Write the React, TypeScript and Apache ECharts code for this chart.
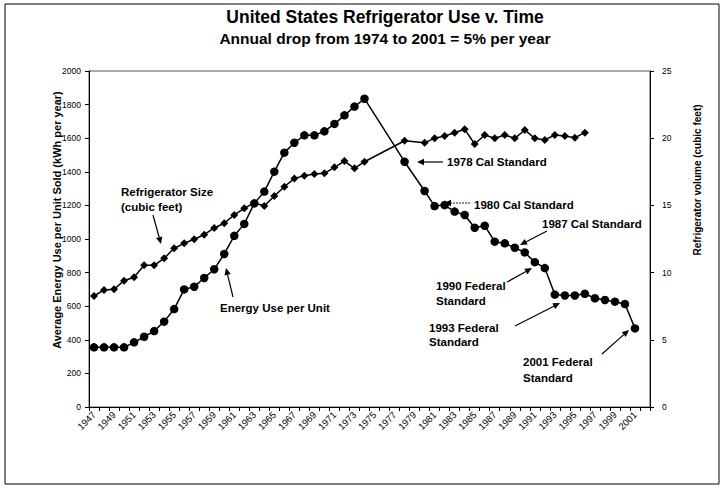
import React, { useEffect, useRef } from "react";
import * as echarts from "echarts";

const years = [
  "1947","1948","1949","1950","1951","1952","1953","1954","1955","1956",
  "1957","1958","1959","1960","1961","1962","1963","1964","1965","1966",
  "1967","1968","1969","1970","1971","1972","1973","1974","1975","1976",
  "1977","1978","1979","1980","1981","1982","1983","1984","1985","1986",
  "1987","1988","1989","1990","1991","1992","1993","1994","1995","1996",
  "1997","1998","1999","2000","2001","2002",
];

// Average energy use per unit sold (kWh per year)
const energyUse: (number | null)[] = [
  355, 355, 355, 355, 385, 418, 452, 508, 583, 700,
  716, 768, 820, 911, 1019, 1090, 1212, 1282, 1401, 1514,
  1573, 1617, 1617, 1641, 1685, 1736, 1788, 1835, null, null,
  null, 1460, null, 1286, 1196, 1202, 1163, 1143, 1067, 1079,
  984, 974, 948, 920, 862, 827, 669, 664, 664, 674,
  647, 637, 627, 613, 468, null,
];

// Refrigerator volume (cubic feet)
const fridgeSize: (number | null)[] = [
  8.26, 8.71, 8.76, 9.4, 9.65, 10.54, 10.54, 11.06, 11.81, 12.18,
  12.48, 12.82, 13.32, 13.67, 14.29, 14.78, 15.2, 14.96, 15.7, 16.39,
  17.01, 17.21, 17.34, 17.39, 17.83, 18.3, 17.76, 18.25, null, null,
  null, 19.81, null, 19.67, 19.99, 20.16, 20.41, 20.66, 19.57, 20.24,
  19.99, 20.24, 19.99, 20.61, 19.99, 19.87, 20.24, 20.16, 20.04, 20.41,
  null, null, null, null, null, null,
];

const FONT = "'Liberation Sans', Arial, sans-serif";

function arrow(x1: number, y1: number, x2: number, y2: number, w = 1.2, dash?: number[]) {
  const ang = Math.atan2(y2 - y1, x2 - x1);
  const hl = 7;
  const hw = 3.2;
  const bx = x2 - hl * Math.cos(ang);
  const by = y2 - hl * Math.sin(ang);
  const px = -Math.sin(ang) * hw;
  const py = Math.cos(ang) * hw;
  return [
    {
      type: "line",
      shape: { x1, y1, x2: bx, y2: by },
      style: { stroke: "#000", lineWidth: w, lineDash: dash },
      silent: true,
    },
    {
      type: "polygon",
      shape: { points: [[x2, y2], [bx + px, by + py], [bx - px, by - py]] },
      style: { fill: "#000" },
      silent: true,
    },
  ];
}

function label(x: number, y: number, text: string, size = 11.5) {
  return {
    type: "text",
    x,
    y,
    style: {
      text,
      fill: "#000",
      font: `bold ${size}px ${FONT}`,
      textAlign: "left",
      textVerticalAlign: "middle",
    },
    silent: true,
  };
}

export default function App() {
  const ref = useRef<HTMLDivElement>(null);
  useEffect(() => {
    if (!ref.current) return;
    const chart = echarts.init(ref.current, undefined, { renderer: "svg" });
    chart.setOption({
      animation: false,
      backgroundColor: "#fff",
      textStyle: { fontFamily: FONT },
      grid: {
        left: 89,
        right: 74,
        top: 71,
        bottom: 83,
        show: true,
        borderColor: "#555",
        borderWidth: 1,
        backgroundColor: "transparent",
      },
      xAxis: {
        type: "category",
        data: years,
        boundaryGap: true,
        axisLine: { lineStyle: { color: "#000", width: 1 } },
        axisTick: { show: true, interval: 0, length: 4, lineStyle: { color: "#000" } },
        axisLabel: {
          interval: 1,
          rotate: 45,
          fontSize: 9.5,
          color: "#000",
          margin: 6,
          fontFamily: FONT,
        },
        splitLine: { show: false },
      },
      yAxis: [
        {
          type: "value",
          min: 0,
          max: 2000,
          interval: 200,
          axisLine: { show: true, lineStyle: { color: "#000", width: 1 } },
          axisTick: { show: true, length: 4, lineStyle: { color: "#000" } },
          axisLabel: {
            fontSize: 8.5,
            color: "#000",
            margin: 8,
            fontFamily: FONT,
            formatter: (v: number) => String(v),
          },
          splitLine: { show: false },
        },
        {
          type: "value",
          position: "right",
          min: 0,
          max: 25,
          interval: 5,
          axisLine: { show: true, lineStyle: { color: "#000", width: 1 } },
          axisTick: { show: true, length: 4, lineStyle: { color: "#000" } },
          axisLabel: {
            fontSize: 8.5,
            color: "#000",
            margin: 12,
            fontFamily: FONT,
            formatter: (v: number) => String(v),
          },
          splitLine: { show: false },
        },
      ],
      series: [
        {
          name: "Energy Use per Unit",
          type: "line",
          yAxisIndex: 0,
          data: energyUse,
          connectNulls: true,
          showSymbol: true,
          showAllSymbol: true,
          symbol: "circle",
          symbolSize: 8.5,
          itemStyle: { color: "#000" },
          lineStyle: { color: "#000", width: 1.5 },
        },
        {
          name: "Refrigerator Size",
          type: "line",
          yAxisIndex: 1,
          data: fridgeSize,
          connectNulls: true,
          showSymbol: true,
          showAllSymbol: true,
          symbol: "diamond",
          symbolSize: 8,
          itemStyle: { color: "#000" },
          lineStyle: { color: "#000", width: 1.5 },
        },
      ],
      graphic: [
        {
          type: "rect",
          shape: { x: 5, y: 4, width: 714, height: 480 },
          style: { fill: "none", stroke: "#000", lineWidth: 1 },
          silent: true,
        },
        {
          type: "text",
          x: 385,
          y: 17,
          style: {
            text: "United States Refrigerator Use v. Time",
            fill: "#000",
            font: `bold 17.5px ${FONT}`,
            textAlign: "center",
            textVerticalAlign: "middle",
          },
        },
        {
          type: "text",
          x: 385,
          y: 38,
          style: {
            text: "Annual drop from 1974 to 2001 = 5% per year",
            fill: "#000",
            font: `bold 15.5px ${FONT}`,
            textAlign: "center",
            textVerticalAlign: "middle",
          },
        },
        {
          type: "text",
          x: 57,
          y: 220,
          rotation: Math.PI / 2,
          style: {
            text: "Average Energy Use per Unit Sold (kWh per year)",
            fill: "#000",
            font: `bold 11px ${FONT}`,
            textAlign: "center",
            textVerticalAlign: "middle",
          },
        },
        {
          type: "text",
          x: 697,
          y: 180,
          rotation: Math.PI / 2,
          style: {
            text: "Refrigerator volume (cubic feet)",
            fill: "#000",
            font: `bold 10px ${FONT}`,
            textAlign: "center",
            textVerticalAlign: "middle",
          },
        },
        label(121, 192, "Refrigerator Size"),
        label(121, 207, "(cubic feet)"),
        ...arrow(153, 215, 161, 244),
        label(220, 308, "Energy Use per Unit"),
        ...arrow(233, 297, 226, 268),
        label(447, 162, "1978 Cal Standard"),
        ...arrow(443, 162, 417, 162),
        label(474, 205, "1980 Cal Standard"),
        ...arrow(470, 203, 444, 203, 0.9, [2, 1]),
        label(542, 224, "1987 Cal Standard"),
        ...arrow(547, 231, 520, 245),
        label(436, 286, "1990 Federal"),
        label(436, 301, "Standard"),
        ...arrow(507, 282, 532, 268),
        label(429, 328, "1993 Federal"),
        label(429, 342, "Standard"),
        ...arrow(515, 326, 560, 303),
        label(523, 362, "2001 Federal"),
        label(523, 378, "Standard"),
        ...arrow(602, 354, 629, 330),
      ],
    });
    return () => chart.dispose();
  }, []);
  return (
    <div
      ref={ref}
      style={{ position: "fixed", left: 0, top: 0, width: 724, height: 490 }}
    />
  );
}
